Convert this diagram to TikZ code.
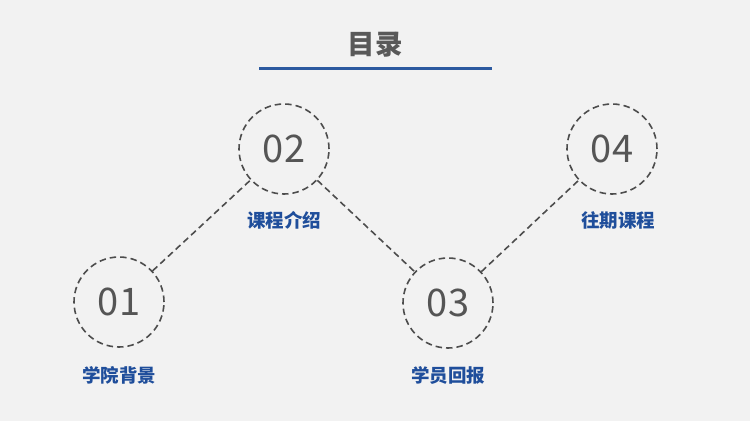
\documentclass[tikz,border=0pt]{standalone}
\usepackage{fontspec}
\newfontfamily\cjk{Noto Sans CJK SC}
\usetikzlibrary{calc}
\definecolor{bgcol}{HTML}{F2F2F2}
\definecolor{titlegray}{HTML}{595959}
\definecolor{numgray}{HTML}{555555}
\definecolor{dashgray}{HTML}{4D4D4D}
\definecolor{navy}{HTML}{1F4E9B}
\definecolor{rule}{HTML}{2C5AA0}
\tikzset{
  numcirc/.style={circle,draw=dashgray,line width=1.6pt,dash pattern=on 6.5pt off 4pt,
    minimum size=90pt,inner sep=0pt,text=numgray,font=\cjk\fontsize{38}{38}\selectfont},
  tag/.style={text=navy,font=\cjk\bfseries\fontsize{18.5}{18.5}\selectfont},
  link/.style={draw=dashgray,line width=1.6pt,dash pattern=on 6.5pt off 4pt}
}
\begin{document}
\begin{tikzpicture}[x=1pt,y=-1pt]
\fill[bgcol] (0,0) rectangle (750,421);
\useasboundingbox (0,0) rectangle (750,421);
\node[text=titlegray,font=\cjk\bfseries\fontsize{27.5}{27.5}\selectfont] (title) at (375,45) {目录};
\draw[rule,line width=3pt] (259,68) -- (492,68);
\foreach \n/\x/\y/\t/\tx/\ty in {1/119/302/学院背景/119/375,2/284/149/课程介绍/284/220,
  3/448/303/学员回报/448/375,4/612/149/往期课程/618/220}{
  \node[numcirc] (c\n) at (\x,\y) {0\n};
  \node[tag] (t\n) at (\tx,\ty) {\t};
}
\foreach \a/\b in {1/2,2/3,3/4}
  \draw[link] (c\a) -- (c\b);
\end{tikzpicture}
\end{document}
